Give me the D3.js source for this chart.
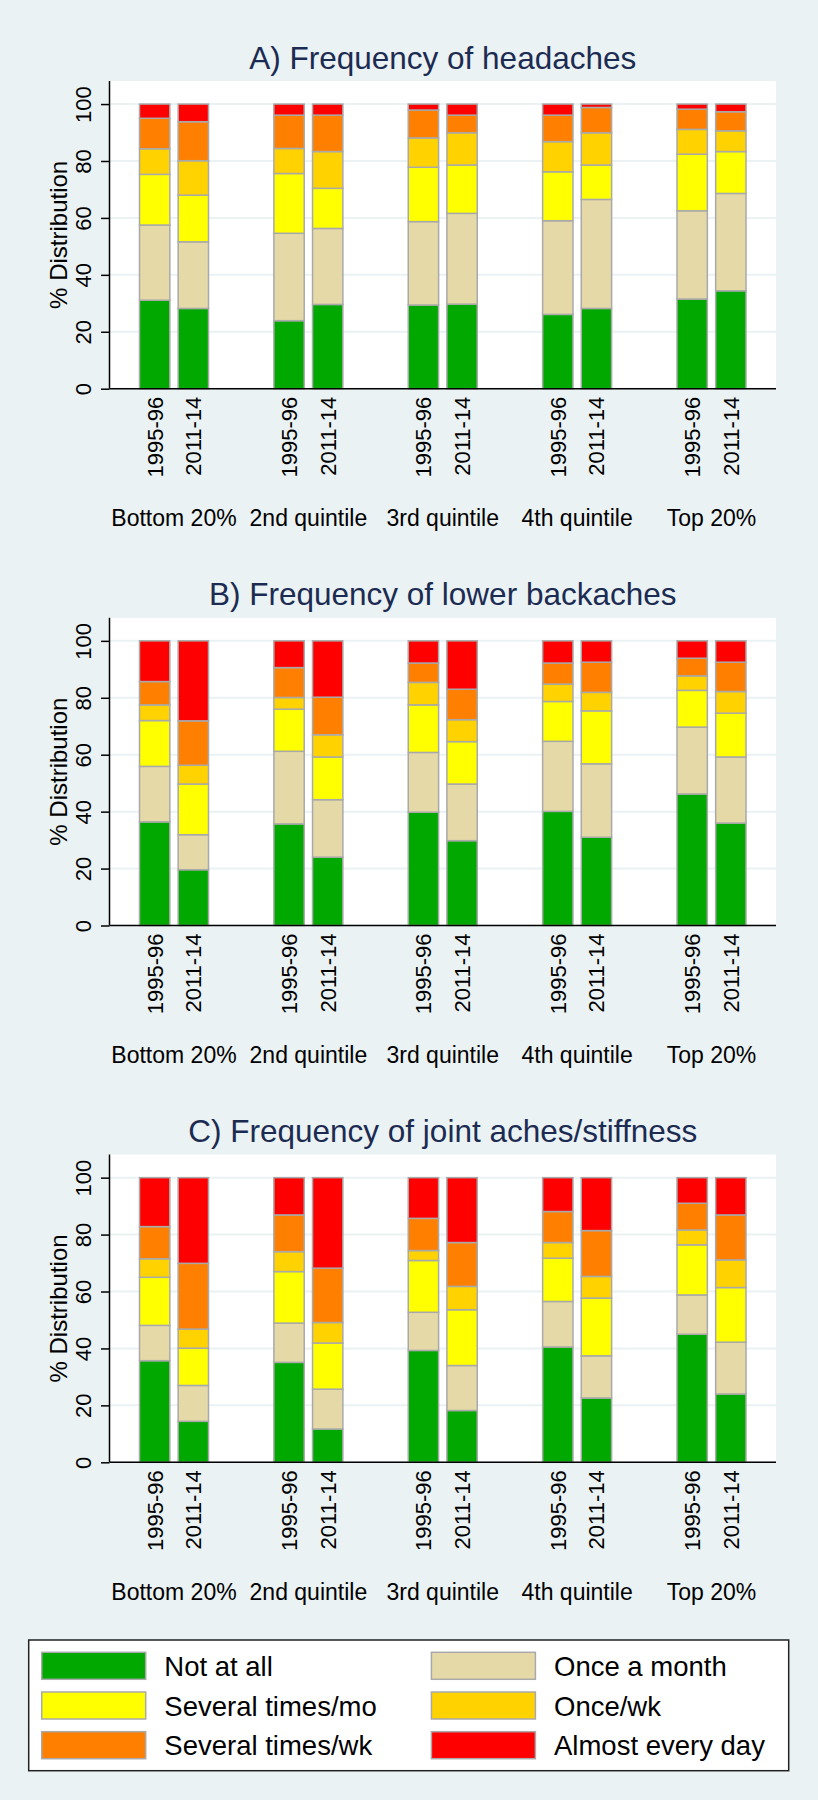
<!DOCTYPE html>
<html lang="en">
    <head>
        <meta charset="utf-8">
        <title>Frequency of aches by quintile</title>
        <style>
            body { margin: 0; background: #eaf2f3; }
            svg { display: block; font-family: "Liberation Sans", Arial, sans-serif; }
        </style>
    </head>
    <body>

        <svg width="818" height="1800"></svg>
        <script src="https://d3js.org/d3.v7.min.js"></script>
        <script>
        // quintile groups, survey periods and answer categories
        var groups = ["Bottom 20%", "2nd quintile", "3rd quintile", "4th quintile", "Top 20%"];
        var periods = ["1995-96", "2011-14"];
        var answers = ["Not at all", "Once a month", "Several times/mo", "Once/wk", "Several times/wk", "Almost every day"];
        var colors = ["#00a800", "#e6d9a8", "#ffff00", "#ffd200", "#ff8000", "#ff0000"];
        var yTicks = [0, 20, 40, 60, 80, 100];

        // one row per bar (group x period), six shares in answer order
        var headaches = [
          [31.1, 26.4, 17.8, 9.0, 10.7, 5.0],
          [28.2, 23.4, 16.4, 12.1, 13.7, 6.2],
          [23.9, 30.7, 21.0, 8.8, 11.7, 3.9],
          [29.6, 26.7, 14.1, 12.9, 12.8, 3.9],
          [29.4, 29.3, 19.1, 10.3, 9.8, 2.1],
          [29.7, 31.9, 17.0, 11.3, 6.2, 3.9],
          [26.1, 32.9, 17.2, 10.6, 9.3, 3.9],
          [28.2, 38.3, 12.1, 11.3, 8.9, 1.2],
          [31.5, 31.0, 19.9, 8.7, 7.1, 1.8],
          [34.4, 34.2, 14.7, 7.3, 6.7, 2.7]
        ];
        var backaches = [
          [36.4, 19.5, 16.1, 5.5, 8.2, 14.3],
          [19.6, 12.3, 17.8, 6.6, 15.6, 28.1],
          [35.7, 25.5, 14.8, 4.1, 10.5, 9.4],
          [24.0, 20.2, 15.0, 7.8, 13.2, 19.8],
          [39.8, 21.0, 16.7, 7.9, 6.8, 7.8],
          [29.8, 19.9, 14.9, 7.7, 10.7, 17.0],
          [40.1, 24.6, 14.0, 6.1, 7.4, 7.8],
          [31.0, 25.8, 18.6, 6.5, 10.6, 7.5],
          [46.2, 23.5, 12.9, 5.1, 6.2, 6.1],
          [36.0, 23.2, 15.4, 7.6, 10.3, 7.5]
        ];
        var jointaches = [
          [35.7, 12.4, 16.9, 6.5, 11.3, 17.2],
          [14.4, 12.6, 13.1, 6.7, 23.1, 30.1],
          [35.1, 13.8, 18.1, 7.0, 12.9, 13.1],
          [11.7, 14.0, 16.2, 7.2, 19.1, 31.8],
          [39.3, 13.4, 18.2, 3.5, 11.3, 14.3],
          [18.2, 15.8, 19.6, 8.2, 15.4, 22.8],
          [40.5, 16.0, 15.2, 5.5, 10.9, 11.9],
          [22.6, 14.8, 20.3, 7.6, 16.1, 18.6],
          [45.0, 13.8, 17.6, 5.2, 9.4, 9.0],
          [24.0, 18.2, 19.2, 9.7, 15.8, 13.1]
        ];

        var panels = [
          {title: "A) Frequency of headaches", data: headaches},
          {title: "B) Frequency of lower backaches", data: backaches},
          {title: "C) Frequency of joint aches/stiffness", data: jointaches}
        ];

        var svg = d3.select("svg");
        svg.append("rect").attr("width", 818).attr("height", 1800).attr("fill", "#eaf2f3");

        var left = 109.5, right = 776, plotTop = 81, plotBottom = 388.7, panelStep = 536.8;

        var x0 = d3.scalePoint().domain(groups).range([left, right]).padding(0.48);
        var x1 = d3.scaleBand().domain(periods).range([-34.5, 34.5]).paddingInner(0.215).paddingOuter(0);
        var y = d3.scaleLinear().domain([0, 108.1]).range([plotBottom, plotTop]);

        var stack = d3.stack()
            .keys(d3.range(answers.length))
            .value(function(d, k) { return d.values[k]; });

        panels.forEach(function(p, pi) {
          var g = svg.append("g").attr("transform", "translate(0," + (pi * panelStep) + ")");

          var rows = [];
          groups.forEach(function(gr, i) {
            periods.forEach(function(pe, j) {
              rows.push({group: gr, period: pe, values: p.data[i * 2 + j]});
            });
          });
          var series = stack(rows);

          g.append("rect")
              .attr("x", left).attr("y", plotTop)
              .attr("width", right - left).attr("height", plotBottom - plotTop)
              .attr("fill", "#fff");

          g.append("g").selectAll("line")
            .data(yTicks)
            .join("line")
              .attr("x1", left).attr("x2", right)
              .attr("y1", function(d) { return y(d); })
              .attr("y2", function(d) { return y(d); })
              .attr("stroke", "#eaf2f3")
              .attr("stroke-width", 2);

          g.append("text")
              .attr("x", (left + right) / 2)
              .attr("y", 68.5)
              .attr("text-anchor", "middle")
              .attr("font-size", 31.5)
              .attr("fill", "#1c2b52")
              .text(p.title);

          g.append("g").selectAll("g")
            .data(series)
            .join("g")
              .attr("fill", function(d) { return colors[d.key]; })
            .selectAll("rect")
            .data(function(d) { return d; })
            .join("rect")
              .attr("x", function(d) { return x0(d.data.group) + x1(d.data.period); })
              .attr("width", x1.bandwidth())
              .attr("y", function(d) { return y(d[1]); })
              .attr("height", function(d) { return y(d[0]) - y(d[1]); })
              .attr("stroke", "#a9a9a9")
              .attr("stroke-width", 1.5);

          // y axis
          var ya = g.append("g")
              .attr("transform", "translate(" + left + ",0)")
              .call(d3.axisLeft(y).tickValues(yTicks).tickSize(8.5));
          ya.select(".domain").attr("d", "M0," + plotTop + "V" + plotBottom).attr("stroke", "#000").attr("stroke-width", 1.5);
          ya.selectAll(".tick line").attr("stroke", "#000").attr("stroke-width", 1.5);
          ya.selectAll(".tick text")
              .attr("x", 0).attr("dy", 0)
              .attr("transform", "translate(-19,0) rotate(-90)")
              .attr("text-anchor", "middle")
              .attr("font-size", 22)
              .attr("font-family", "Liberation Sans, Arial, sans-serif")
              .attr("fill", "#000");

          g.append("text")
              .attr("transform", "translate(67," + ((plotTop + plotBottom) / 2) + ") rotate(-90)")
              .attr("text-anchor", "middle")
              .attr("font-size", 24)
              .text("% Distribution");

          // x axis line
          g.append("line")
              .attr("x1", left).attr("x2", right)
              .attr("y1", plotBottom).attr("y2", plotBottom)
              .attr("stroke", "#000").attr("stroke-width", 1.5);

          g.append("g").selectAll("text")
            .data(rows)
            .join("text")
              .attr("transform", function(d) {
                var cx = x0(d.group) + x1(d.period) + x1.bandwidth() / 2 + 8;
                return "translate(" + cx + "," + (plotBottom + 8) + ") rotate(-90)";
              })
              .attr("text-anchor", "end")
              .attr("font-size", 22)
              .text(function(d) { return d.period; });

          g.append("g").selectAll("text")
            .data(groups)
            .join("text")
              .attr("x", function(d) { return x0(d); })
              .attr("y", 526)
              .attr("text-anchor", "middle")
              .attr("font-size", 23)
              .text(function(d) { return d; });
        });

        // legend
        var lg = svg.append("g");
        lg.append("rect")
            .attr("x", 28.7).attr("y", 1640)
            .attr("width", 760).attr("height", 130.7)
            .attr("fill", "#fff")
            .attr("stroke", "#222").attr("stroke-width", 1.5);

        var item = lg.selectAll("g.item")
          .data(answers)
          .join("g")
            .attr("class", "item")
            .attr("transform", function(d, i) {
              return "translate(" + (i % 2 ? 431.4 : 41.7) + "," + (1652.3 + Math.floor(i / 2) * 39.7) + ")";
            });
        item.append("rect")
            .attr("width", 104).attr("height", 27)
            .attr("fill", function(d, i) { return colors[i]; })
            .attr("stroke", "#a9a9a9").attr("stroke-width", 1.5);
        item.append("text")
            .attr("x", 122.6).attr("y", 23.5)
            .attr("font-size", 27.5)
            .text(function(d) { return d; });
        </script>

    </body>
</html>
